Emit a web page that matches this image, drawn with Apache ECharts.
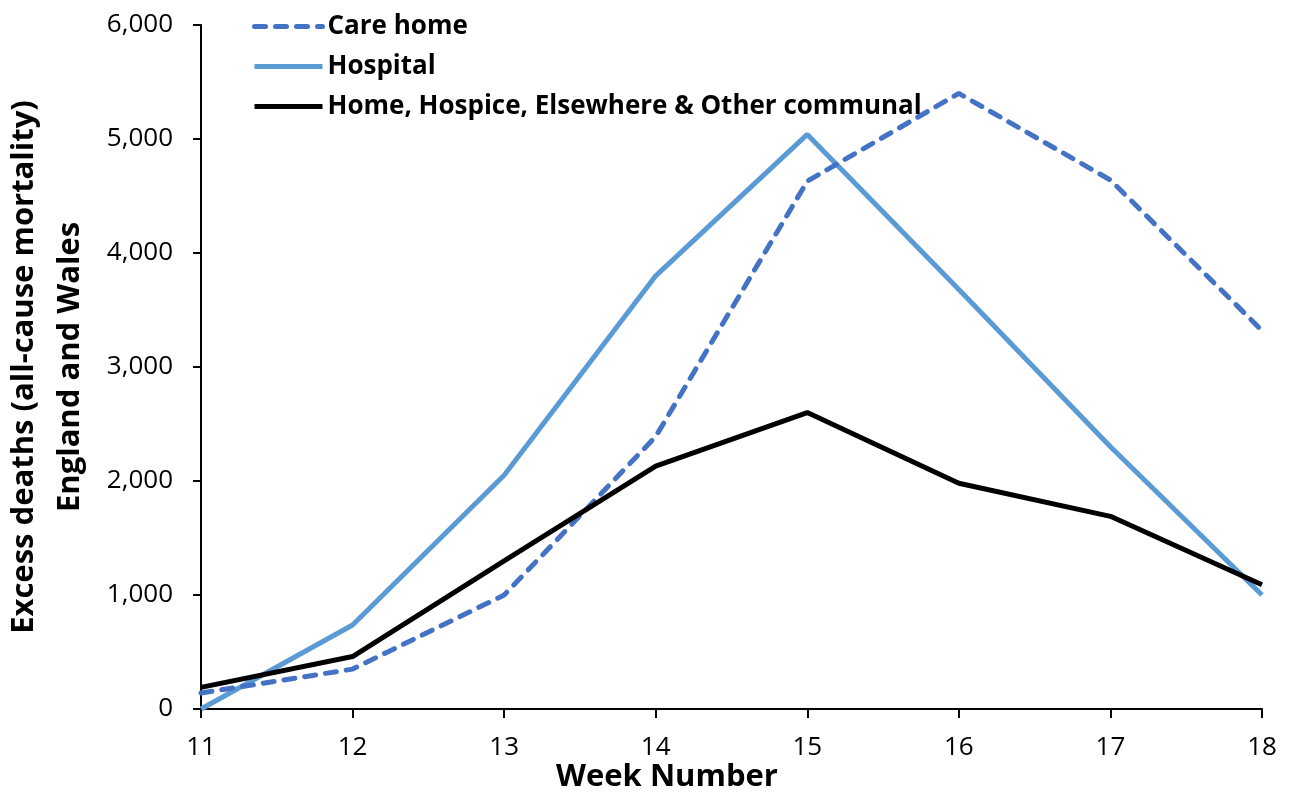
<!DOCTYPE html>
<html><head><meta charset="utf-8">
<script src="https://cdn.jsdelivr.net/npm/echarts@6/dist/echarts.min.js"></script>
<style>html,body{margin:0;padding:0;background:#fff}#c{width:1295px;height:796px}</style>
</head><body><div id="c"></div>
<script>
const weeks = ['11','12','13','14','15','16','17','18'];
const careHome = [140, 350, 1000, 2390, 4630, 5400, 4640, 3320];
const hospital = [0, 737, 2050, 3800, 5040, 3680, 2300, 1000];
const otherPlaces = [190, 460, 1300, 2130, 2600, 1980, 1690, 1090];
const seriesNames = ['Care home', 'Hospital', 'Home, Hospice, Elsewhere & Other communal'];
const yTicks = [0, 1000, 2000, 3000, 4000, 5000, 6000];

const font = '"Open Sans", Lato, sans-serif';
const chart = echarts.init(document.getElementById('c'));
chart.setOption({
  animation: false,
  grid: {left: 201, right: 33, top: 25, bottom: 87, outerBoundsMode: 'none', containLabel: false},
  legend: {
    orient: 'vertical', left: 247, top: 6,
    itemWidth: 68, itemHeight: 14, itemGap: 9,
    data: seriesNames,
    itemStyle: {opacity: 0},
    lineStyle: {width: 5},
    textStyle: {fontFamily: font, fontWeight: 'bold', fontSize: 26, color: '#000', lineHeight: 31}
  },
  xAxis: {
    type: 'category', data: weeks, boundaryGap: false,
    axisLine: {lineStyle: {color: '#000', width: 2}},
    axisTick: {alignWithLabel: true, length: 9, lineStyle: {color: '#000', width: 2}},
    axisLabel: {fontFamily: font, fontSize: 26, color: '#000', margin: 26}
  },
  yAxis: {
    type: 'value', min: 0, max: 6000, interval: 1000,
    splitLine: {show: false},
    axisLine: {show: true, lineStyle: {color: '#000', width: 2}},
    axisTick: {show: true, length: 8, lineStyle: {color: '#000', width: 2}},
    axisLabel: {fontFamily: font, fontSize: 26, color: '#000', margin: 28,
      formatter: v => yTicks.includes(v) ? v.toLocaleString('en-US') : ''},
    name: 'Excess deaths (all-cause mortality)\nEngland and Wales',
    nameLocation: 'middle', nameGap: 108,
    nameTextStyle: {fontFamily: font, fontWeight: 'bold', fontSize: 31, color: '#000', lineHeight: 46}
  },
  graphic: [{
    type: 'text', left: 556, top: 762,
    style: {text: 'Week Number', font: 'bold 31px ' + font, fill: '#000'}
  }],
  series: [
    {name: seriesNames[0], type: 'line', data: careHome, symbol: 'none',
     lineStyle: {color: '#4472C4', width: 5, type: [11, 10], cap: 'round'}, itemStyle: {color: '#4472C4'}, z: 3},
    {name: seriesNames[1], type: 'line', data: hospital, symbol: 'none',
     lineStyle: {color: '#5B9BD5', width: 5}, itemStyle: {color: '#5B9BD5'}, z: 2},
    {name: seriesNames[2], type: 'line', data: otherPlaces, symbol: 'none',
     lineStyle: {color: '#000', width: 5}, itemStyle: {color: '#000'}, z: 4}
  ]
});
</script></body></html>
